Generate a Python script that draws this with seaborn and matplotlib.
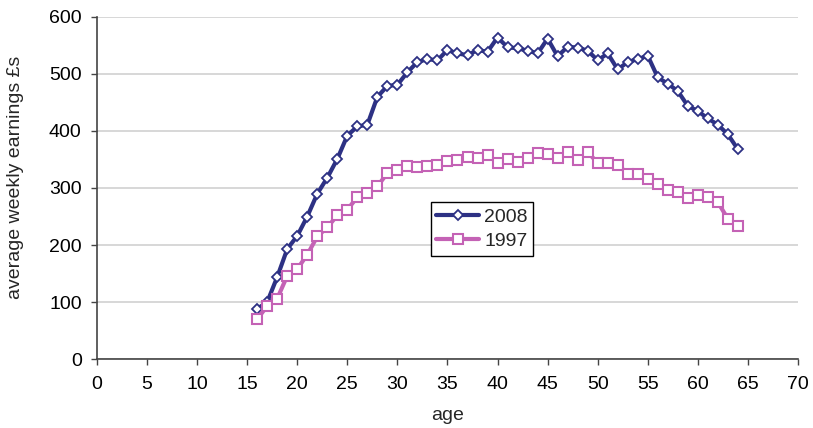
import matplotlib
matplotlib.use("Agg")
import matplotlib.pyplot as plt
import pandas as pd
import seaborn as sns

ages = list(range(16, 65))

earnings_2008 = [
    88, 100, 144, 193, 216, 250, 290, 318, 351, 392,
    408, 411, 460, 479, 481, 503, 521, 526, 524, 542,
    536, 533, 542, 539, 564, 547, 545, 541, 536, 562,
    531, 548, 546, 541, 524, 536, 508, 521, 526, 532,
    494, 483, 470, 444, 435, 422, 411, 394, 368,
]

earnings_1997 = [
    70, 93, 106, 146, 158, 183, 215, 231, 252, 262,
    284, 292, 303, 326, 331, 338, 337, 339, 341, 347,
    349, 354, 352, 358, 344, 350, 345, 353, 361, 360,
    353, 363, 349, 363, 344, 343, 341, 325, 324, 316,
    307, 296, 293, 283, 287, 284, 275, 246, 234,
]

series_names = ["2008", "1997"]

sns.set_theme(style="white")
plt.rcParams["font.family"] = ["Liberation Sans", "DejaVu Sans"]

df = pd.DataFrame({
    "age": ages * 2,
    "earnings": earnings_2008 + earnings_1997,
    "year": [series_names[0]] * len(ages) + [series_names[1]] * len(ages),
})

fig = plt.figure(figsize=(8.13, 4.28), dpi=100)
ax = fig.add_axes([0.1193, 0.1612, 0.8622, 0.7991])

styles = {
    "2008": dict(color="#2d3184", marker="D", markersize=5, markeredgewidth=1.3),
    "1997": dict(color="#c462b5", marker="s", markersize=6.5, markeredgewidth=1.5),
}

for name in series_names:
    st = styles[name]
    sns.lineplot(
        data=df[df["year"] == name], x="age", y="earnings", ax=ax,
        color=st["color"], linewidth=3, label=name,
        marker=st["marker"], markersize=st["markersize"],
        markerfacecolor="white", markeredgecolor=st["color"],
        markeredgewidth=st["markeredgewidth"],
    )

ax.set_xlim(0, 70)
ax.set_ylim(0, 600)
ax.set_xticks(range(0, 71, 5))
ax.set_yticks(range(0, 601, 100))
ax.yaxis.grid(True, color="#d4d4d4", linewidth=1.3)
ax.set_axisbelow(True)

for side in ["top", "right"]:
    ax.spines[side].set_visible(False)
for side in ["left", "bottom"]:
    ax.spines[side].set_color("#444444")
    ax.spines[side].set_linewidth(1.2)

ax.tick_params(axis="both", direction="out", length=4, width=1, color="#444444",
               labelsize=14, labelcolor="black", left=True, bottom=True)
ax.tick_params(axis="x", pad=8)
ax.tick_params(axis="y", pad=7)

ax.set_xlabel("age", fontsize=14)
ax.set_ylabel("average weekly earnings £s", fontsize=14)
ax.xaxis.set_label_coords(0.5, -0.14)
ax.yaxis.set_label_coords(-0.104, 0.532)

leg = ax.legend(loc="upper left", bbox_to_anchor=(0.476, 0.458), fontsize=14,
                frameon=True, fancybox=False, edgecolor="black", framealpha=1,
                handlelength=2.2, handletextpad=0.25, borderpad=0.3,
                labelspacing=0.35, borderaxespad=0)
leg.get_frame().set_linewidth(1.0)

fig.savefig("out.png", dpi=100)
